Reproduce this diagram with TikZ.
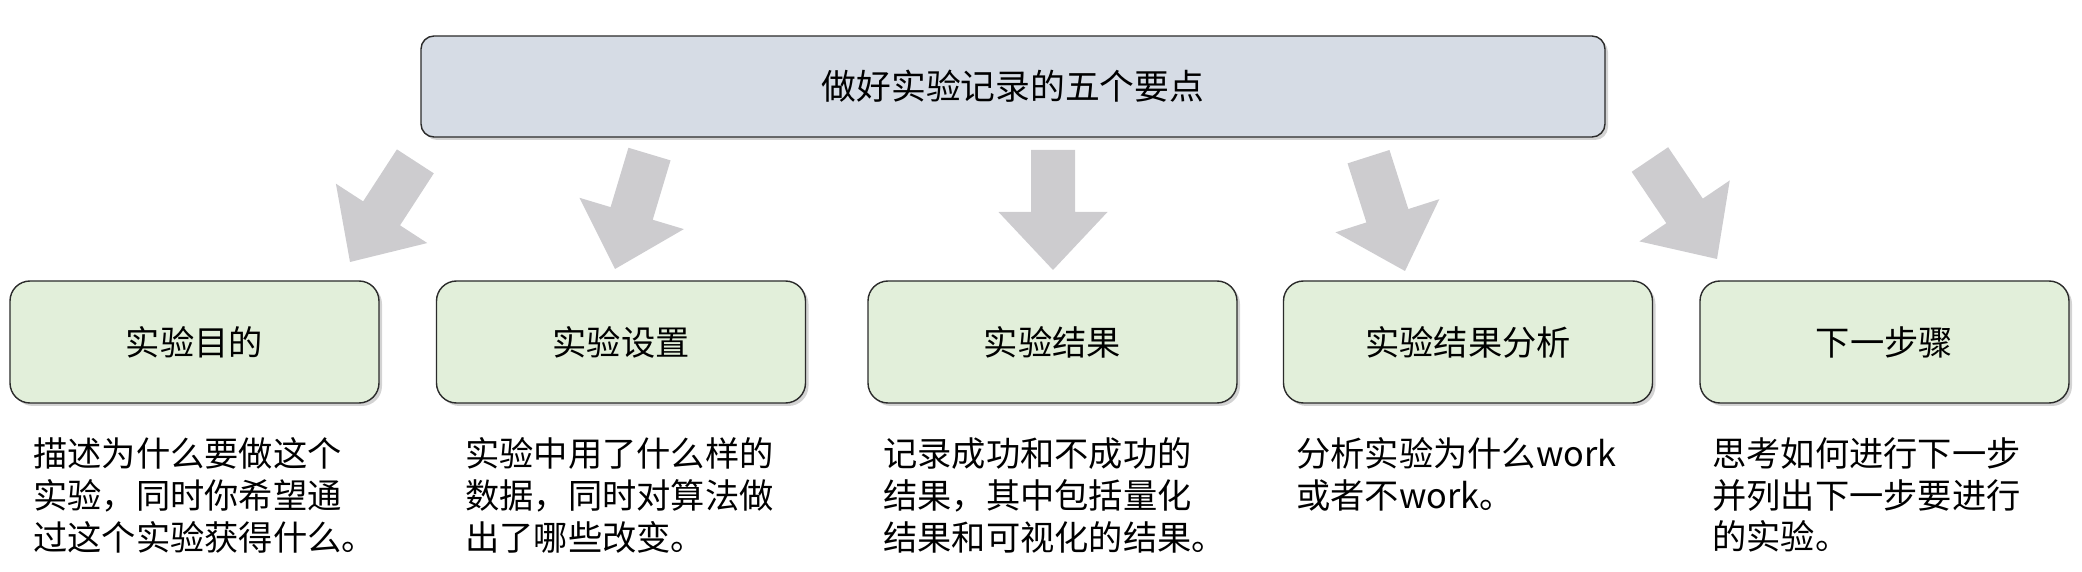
\documentclass[tikz,border=0pt]{standalone}
\usepackage{fontspec}
\setmainfont{Noto Sans CJK SC}
\usepackage{xcolor}
\usepackage{tikz}
\usetikzlibrary{shadows}
\definecolor{titlefill}{HTML}{D6DCE5}
\definecolor{stepfill}{HTML}{E2EFDA}
\definecolor{edgegrey}{HTML}{2B2B2B}
\definecolor{arrowgrey}{HTML}{CDCCCF}
\tikzset{
  titlebox/.style={draw=edgegrey, fill=titlefill, rounded corners=0.26cm, line width=0.8pt,
    minimum width=23.68cm, minimum height=2.02cm, inner sep=0pt,
    drop shadow={shadow xshift=0.06cm, shadow yshift=-0.06cm, opacity=0.35},
    font=\fontsize{19.8}{24}\selectfont},
  stepbox/.style={draw=edgegrey, fill=stepfill, rounded corners=0.4cm, line width=0.8pt,
    minimum width=7.38cm, minimum height=2.44cm, inner sep=0pt,
    drop shadow={shadow xshift=0.06cm, shadow yshift=-0.06cm, opacity=0.35},
    font=\fontsize{19.5}{24}\selectfont},
  steptext/.style={anchor=north west, align=left, inner sep=0pt,
    font=\fontsize{19.5}{23.85}\selectfont},
  bigarrow/.pic={
    \fill[arrowgrey] (0,0) -- (-1.09,1.16) -- (-0.44,1.16) -- (-0.44,2.40)
      -- (0.44,2.40) -- (0.44,1.16) -- (1.09,1.16) -- cycle;
  },
}
\begin{document}
\begin{tikzpicture}
  \useasboundingbox (0,0) rectangle (41.64,-11.44);
  % 标题
  \node[titlebox] (title) at (20.26,-1.73) {做好实验记录的五个要点};
  % 五个要点
  \node[stepbox] (goal)     at (3.89,-6.84)  {实验目的};
  \node[stepbox] (setup)    at (12.42,-6.84) {实验设置};
  \node[stepbox] (result)   at (21.05,-6.84) {实验结果};
  \node[stepbox] (analysis) at (29.36,-6.84) {实验结果分析};
  \node[stepbox] (nextstep) at (37.69,-6.84) {下一步骤};
  % 说明文字
  \node[steptext] (goaltxt)     at (0.66,-8.74)  {描述为什么要做这个\\实验，同时你希望通\\过这个实验获得什么。};
  \node[steptext] (setuptxt)    at (9.30,-8.74)  {实验中用了什么样的\\数据，同时对算法做\\出了哪些改变。};
  \node[steptext] (resulttxt)   at (17.66,-8.74) {记录成功和不成功的\\结果，其中包括量化\\结果和可视化的结果。};
  \node[steptext] (analysistxt) at (25.92,-8.74) {分析实验为什么work\\或者不work。};
  \node[steptext] (nextsteptxt) at (34.24,-8.74) {思考如何进行下一步\\并列出下一步要进行\\的实验。};
  % 箭头
  \coordinate (tip1) at (7.00,-5.24);
  \coordinate (tip2) at (12.30,-5.38);
  \coordinate (tip3) at (21.06,-5.40);
  \coordinate (tip4) at (28.10,-5.42);
  \coordinate (tip5) at (34.34,-5.18);
  \pic[rotate=-33]   at (tip1) {bigarrow};
  \pic[rotate=-16.7] at (tip2) {bigarrow};
  \pic               at (tip3) {bigarrow};
  \pic[rotate=17.7]  at (tip4) {bigarrow};
  \pic[rotate=34]    at (tip5) {bigarrow};
\end{tikzpicture}
\end{document}
